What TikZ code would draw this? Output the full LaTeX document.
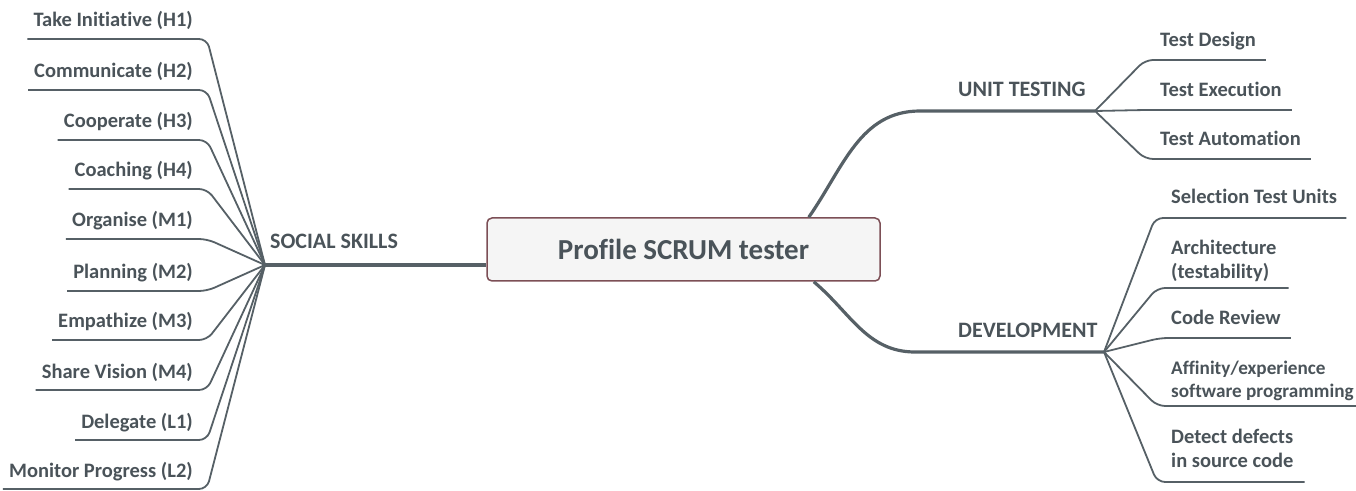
\documentclass[tikz,border=0pt]{standalone}
\usepackage{fontspec}
\setmainfont{Carlito}[Ligatures=NoCommon]
\usepackage{tikz}
\usetikzlibrary{calc}
\definecolor{branch}{HTML}{566066}
\definecolor{ink}{HTML}{4A5359}
\definecolor{rim}{HTML}{7C4F56}
\definecolor{paper}{HTML}{F5F5F5}
\tikzset{
  bough/.style={draw=branch, line width=3.2pt},
  twig/.style={draw=branch, line width=1.8pt, rounded corners=8pt},
  topic/.style={text=ink, inner sep=0pt, font=\fontsize{22}{26}\selectfont\bfseries},
  leaf/.style={text=ink, inner sep=0pt, align=left,
    font=\fontsize{20.5}{24}\selectfont\bfseries},
  central/.style={draw=rim, fill=paper, line width=1.5pt, rounded corners=5pt,
    minimum width=393pt, minimum height=63pt, text=ink,
    font=\fontsize{29}{34}\selectfont\bfseries}
}

\begin{document}
\begin{tikzpicture}[x=1pt, y=1pt]
    \useasboundingbox (0,0) rectangle (1356,490);

    \coordinate (social)   at ( 265, 225);
    \coordinate (unit)     at (1095, 379);
    \coordinate (unitbend) at ( 920, 379);
    \coordinate (dev)      at (1104, 138);
    \coordinate (devbend)  at ( 915, 138);

    \node [central] (profile) at (683.5, 240.5) {Profile SCRUM tester};

    \node [topic, anchor=base west] (socialT) at ( 270, 241) {SOCIAL SKILLS};
    \node [topic, anchor=base west] (unitT)   at ( 958, 393) {UNIT TESTING};
    \node [topic, anchor=base west] (devT)    at ( 958, 153) {DEVELOPMENT};

    % main branches
    \draw [bough] (social) -- (profile.west |- social);
    \draw [bough] ([xshift=-72pt]profile.north east) to [out=55, in=180] (unitbend) -- (unit);
    \draw [bough] ([xshift=-67pt]profile.south east) to [out=-40, in=180] (devbend) -- (dev);

    % social skills
    \node [leaf, anchor=base east] (h1) at (193, 463) {Take Initiative (H1)};
    \node [leaf, anchor=base east] (h2) at (193, 412) {Communicate (H2)};
    \node [leaf, anchor=base east] (h3) at (193, 362) {Cooperate (H3)};
    \node [leaf, anchor=base east] (h4) at (193, 313) {Coaching (H4)};
    \node [leaf, anchor=base east] (m1) at (193, 263) {Organise (M1)};
    \node [leaf, anchor=base east] (m2) at (193, 211) {Planning (M2)};
    \node [leaf, anchor=base east] (m3) at (193, 162) {Empathize (M3)};
    \node [leaf, anchor=base east] (m4) at (193, 112) {Share Vision (M4)};
    \node [leaf, anchor=base east] (l1) at (193,  62) {Delegate (L1)};
    \node [leaf, anchor=base east] (l2) at (193,  13) {Monitor Progress (L2)};

    \draw [twig] ($(h1.base west)+(-6,-12)$) -- ($(h1.base east)+(14,-12)$) -- (social);
    \draw [twig] ($(h2.base west)+(-6,-12)$) -- ($(h2.base east)+(14,-12)$) -- (social);
    \draw [twig] ($(h3.base west)+(-6,-12)$) -- ($(h3.base east)+(14,-12)$) -- (social);
    \draw [twig] ($(h4.base west)+(-6,-12)$) -- ($(h4.base east)+(14,-12)$) -- (social);
    \draw [twig] ($(m1.base west)+(-6,-12)$) -- ($(m1.base east)+(14,-12)$) -- (social);
    \draw [twig] ($(m2.base west)+(-6,-12)$) -- ($(m2.base east)+(14,-12)$) -- (social);
    \draw [twig] ($(m3.base west)+(-6,-12)$) -- ($(m3.base east)+(14,-12)$) -- (social);
    \draw [twig] ($(m4.base west)+(-6,-12)$) -- ($(m4.base east)+(14,-12)$) -- (social);
    \draw [twig] ($(l1.base west)+(-6,-12)$) -- ($(l1.base east)+(14,-12)$) -- (social);
    \draw [twig] ($(l2.base west)+(-6,-12)$) -- ($(l2.base east)+(14,-12)$) -- (social);

    % unit testing
    \node [leaf, anchor=base west] (design) at (1160, 443) {Test Design};
    \node [leaf, anchor=base west] (exec)   at (1160, 393) {Test Execution};
    \node [leaf, anchor=base west] (auto)   at (1160, 344) {Test Automation};

    \draw [twig] (unit) -- ($(design.base west)+(-15,-13)$) -- ($(design.base east)+(10,-13)$);
    \draw [twig] (unit) -- ($(exec.base west)+(-15,-13)$)   -- ($(exec.base east)+(10,-13)$);
    \draw [twig] (unit) -- ($(auto.base west)+(-15,-13)$)   -- ($(auto.base east)+(10,-13)$);

    % development (base = last line of the node)
    \node [leaf, anchor=base west] (select) at (1171, 286) {Selection Test Units};
    \node [leaf, anchor=base west] (arch)   at (1171, 211) {Architecture\\(testability)};
    \node [leaf, anchor=base west] (review) at (1171, 165) {Code Review};
    \node [leaf, anchor=base west, font=\fontsize{19.2}{23}\selectfont\bfseries] (affin)
      at (1171, 93) {Affinity/experience\\software programming};
    \node [leaf, anchor=base west] (detect) at (1171,  23) {Detect defects\\in source code};

    \draw [twig] (dev) -- ($(select.base west)+(-16,-14)$) -- ($(select.base east)+(9,-14)$);
    \draw [twig] (dev) -- ($(arch.base west)+(-14,-9)$)    -- ($(arch.base east)+(12,-9)$);
    \draw [twig] (dev) -- ($(review.base west)+(-11,-13)$) -- ($(review.base east)+(10,-13)$);
    \draw [twig] (dev) -- ($(affin.base west)+(-14,-9)$)   -- ($(affin.base east)+(10,-9)$);
    \draw [twig] (dev) -- ($(detect.base west)+(-14,-15)$) -- ($(detect.base east)+(11,-15)$);
  \end{tikzpicture}
\end{document}
